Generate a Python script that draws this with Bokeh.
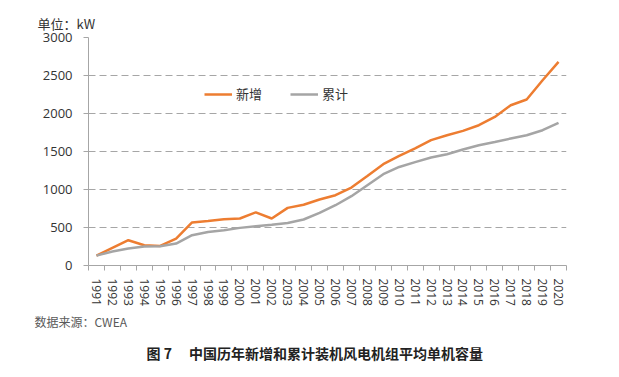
from bokeh.plotting import figure
from bokeh.models import Range1d, FixedTicker, Legend, LegendItem, Title
from bokeh.embed import file_html
from bokeh.resources import INLINE

# ---- data ----
years = list(range(1991, 2021))
year_labels = [str(y) for y in years]
new_avg = [130, 232, 333, 267, 258, 355, 566, 587, 609, 618,
           700, 618, 758, 800, 868, 925, 1026, 1179, 1333, 1442,
           1540, 1649, 1714, 1771, 1846, 1955, 2109, 2184, 2438, 2679]
cum_avg = [130, 185, 224, 250, 254, 289, 399, 442, 464, 495,
           517, 535, 560, 605, 692, 793, 912, 1057, 1201, 1297,
           1360, 1421, 1464, 1526, 1583, 1626, 1671, 1714, 1780, 1876]
y_ticks = [0, 500, 1000, 1500, 2000, 2500, 3000]
series_names = ["新增", "累计"]
unit_text = "单位：kW"
source_text = "数据来源：CWEA"
caption = "图 7　 中国历年新增和累计装机风电机组平均单机容量"

ORANGE = "#ED7D31"
GRAY = "#A5A5A5"
TXT = "#333333"
CJK = "Noto Sans CJK SC"
LAT = "Open Sans"

p = figure(frame_width=478, frame_height=228, output_backend="svg", toolbar_location=None,
           x_range=Range1d(years[0] - 0.5, years[-1] + 0.5),
           y_range=Range1d(y_ticks[0], y_ticks[-1]),
           min_border_left=88, min_border_right=45,
           min_border_top=37, min_border_bottom=100)
p.outline_line_color = None
p.background_fill_color = "white"
p.border_fill_color = "white"

r_new = p.line(years, new_avg, line_color=ORANGE, line_width=2.5)
r_cum = p.line(years, cum_avg, line_color=GRAY, line_width=2.5)

# x axis: labels at centers, tick marks at category boundaries
p.xaxis.ticker = FixedTicker(ticks=years, minor_ticks=[y - 0.5 for y in years] + [years[-1] + 0.5])
p.xaxis.major_label_overrides = {y: s for y, s in zip(years, year_labels)}
p.xaxis.major_label_orientation = "vertical"
p.xaxis.major_tick_line_color = None
p.xaxis.major_tick_out = 0
p.xaxis.major_tick_in = 0
p.xaxis.minor_tick_out = 5
p.xaxis.minor_tick_in = 0
p.xaxis.minor_tick_line_color = "#a6a6a6"
p.xaxis.axis_line_color = "#a6a6a6"
p.xaxis.major_label_standoff = 8
p.xaxis.major_label_text_font = LAT
p.xaxis.major_label_text_font_size = "12px"
p.xaxis.major_label_text_color = TXT

# y axis
p.yaxis.ticker = FixedTicker(ticks=y_ticks)
p.yaxis.axis_line_color = "#a6a6a6"
p.yaxis.major_tick_out = 5
p.yaxis.major_tick_in = 0
p.yaxis.major_tick_line_color = "#a6a6a6"
p.yaxis.minor_tick_line_color = None
p.yaxis.major_label_standoff = 11
p.yaxis.major_label_text_font = LAT
p.yaxis.major_label_text_font_size = "13px"
p.yaxis.major_label_text_color = TXT

p.xgrid.visible = False
p.ygrid.ticker = FixedTicker(ticks=y_ticks)
p.ygrid.grid_line_color = "#a6a6a6"
p.ygrid.grid_line_dash = "7 4"
p.ygrid.grid_line_width = 1

legend = Legend(items=[LegendItem(label=series_names[0], renderers=[r_new]),
                       LegendItem(label=series_names[1], renderers=[r_cum])],
                orientation="horizontal", location=(116, 162),
                padding=0, margin=0, spacing=28, label_standoff=4,
                glyph_width=28, glyph_height=16, label_height=16,
                border_line_color=None, background_fill_alpha=0,
                label_text_font=CJK, label_text_font_size="13px",
                label_text_color=TXT)
p.add_layout(legend, "center")

p.add_layout(Title(text=unit_text, align="left", offset=-51, standoff=9,
                   text_font=CJK, text_font_size="13px", text_font_style="normal",
                   text_color=TXT), "above")
p.add_layout(Title(text=source_text, align="left", offset=-54, standoff=5,
                   text_font=CJK, text_font_size="12px", text_font_style="normal",
                   text_color="#595959"), "below")
p.add_layout(Title(text=caption, align="left", offset=58, standoff=17,
                   text_font=CJK, text_font_size="14px", text_font_style="bold",
                   text_color="#222222"), "below")

open("out.html", "w").write(file_html(p, INLINE))
